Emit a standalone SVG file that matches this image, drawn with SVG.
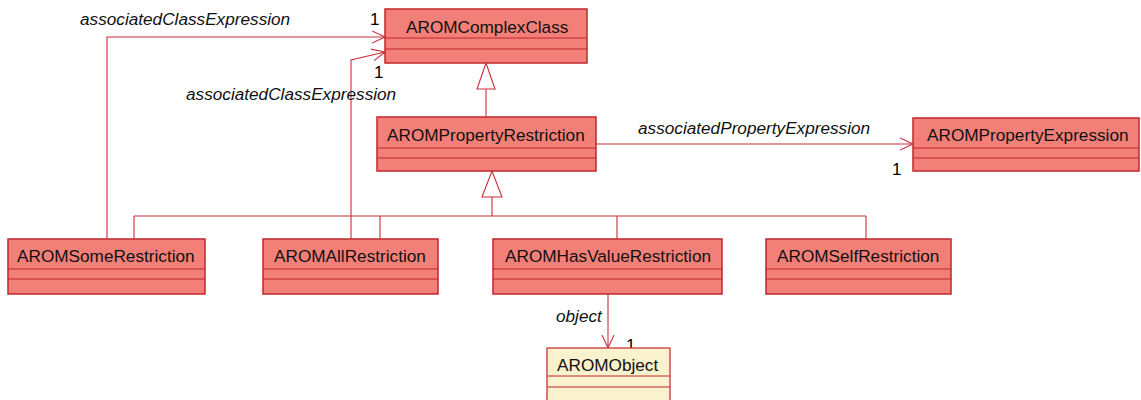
<svg xmlns="http://www.w3.org/2000/svg" width="1141" height="400" viewBox="0 0 1141 400">
<style>
.box{fill:#F38078;stroke:#C0272F;stroke-width:1.5}
.obj{fill:#FAF1CD;stroke:#C0272F;stroke-width:1.2}
.div{stroke:#C0272F;stroke-width:1}
.name{font-family:"Liberation Sans",Arial,sans-serif;font-size:17.2px;fill:#111}
.lbl{font-family:"Liberation Sans",Arial,sans-serif;font-size:17.2px;font-style:italic;fill:#111}
.mul{font-family:"Liberation Sans",Arial,sans-serif;font-size:17px;fill:#000}
.ln{fill:none;stroke:#C8303B;stroke-width:1.1}
.tri{fill:#fff;stroke:#C8303B;stroke-width:1.1}
</style>
<defs>
<marker id="open" viewBox="0 0 14 14" refX="13" refY="7" markerWidth="14" markerHeight="14" markerUnits="userSpaceOnUse" orient="auto">
<path d="M0,1 L13,7 L0,13" fill="none" stroke="#C8303B" stroke-width="1.1"/>
</marker>
</defs>
<g id="connectors">
<path class="ln" d="M486,89 V117"/>
<polygon class="tri" points="486,63 477,89 495,89"/>
<path class="ln" d="M492,197 V216 M134,216 H866 M134,216 V239 M380,216 V239 M617,216 V239 M866,216 V239"/>
<polygon class="tri" points="492,171 482,197 502,197"/>
<path class="ln" d="M107,239 V37 H385" marker-end="url(#open)"/>
<path class="ln" d="M351,239 V60 L385,52" marker-end="url(#open)"/>
<path class="ln" d="M596,144 H913" marker-end="url(#open)"/>
<path class="ln" d="M608,294 V348" marker-end="url(#open)"/>
<text class="lbl" x="80" y="25">associatedClassExpression</text>
<text class="mul" x="370" y="25">1</text>
<text class="mul" x="374" y="78">1</text>
<text class="lbl" x="186" y="100">associatedClassExpression</text>
<text class="lbl" x="638" y="134">associatedPropertyExpression</text>
<text class="mul" x="892" y="175">1</text>
<text class="lbl" x="556" y="322">object</text>
<text class="mul" x="626" y="351">1</text>
</g>
<g id="AROMComplexClass">
<rect class="box" x="385" y="9" width="202" height="54"/>
<path class="div" d="M385,38 H587 M385,49 H587"/>
<text class="name" x="406" y="33">AROMComplexClass</text>
</g>
<g id="AROMPropertyRestriction">
<rect class="box" x="377" y="117" width="219" height="54"/>
<path class="div" d="M377,148 H596 M377,158 H596"/>
<text class="name" x="387" y="141">AROMPropertyRestriction</text>
</g>
<g id="AROMPropertyExpression">
<rect class="box" x="913" y="118" width="226" height="53"/>
<path class="div" d="M913,148 H1139 M913,158 H1139"/>
<text class="name" x="927" y="141">AROMPropertyExpression</text>
</g>
<g id="AROMSomeRestriction">
<rect class="box" x="8" y="239" width="197" height="55"/>
<path class="div" d="M8,269 H205 M8,279 H205"/>
<text class="name" x="17" y="262">AROMSomeRestriction</text>
</g>
<g id="AROMAllRestriction">
<rect class="box" x="263" y="239" width="175" height="55"/>
<path class="div" d="M263,269 H438 M263,279 H438"/>
<text class="name" x="274" y="262">AROMAllRestriction</text>
</g>
<g id="AROMHasValueRestriction">
<rect class="box" x="493" y="239" width="229" height="55"/>
<path class="div" d="M493,269 H722 M493,279 H722"/>
<text class="name" x="505" y="262">AROMHasValueRestriction</text>
</g>
<g id="AROMSelfRestriction">
<rect class="box" x="766" y="239" width="185" height="55"/>
<path class="div" d="M766,269 H951 M766,279 H951"/>
<text class="name" x="777" y="262">AROMSelfRestriction</text>
</g>
<g id="AROMObject">
<rect class="obj" x="547" y="348" width="123" height="60"/>
<path class="div" d="M547,376 H670 M547,387 H670"/>
<text class="name" x="557" y="371">AROMObject</text>
</g>
</svg>
